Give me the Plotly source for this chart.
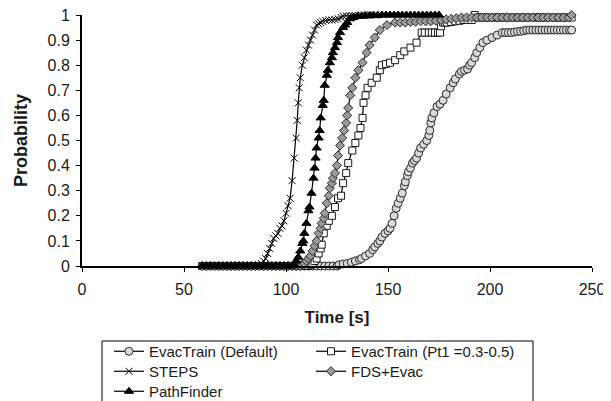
import plotly.graph_objects as go

# ---------------- data ----------------
default_t = [59, 61, 63, 65, 67, 69, 71, 73, 75, 77, 79, 81, 83, 85, 87, 89, 91, 93, 95, 97,
             99, 101, 103, 105, 107, 109, 111, 113, 115, 117, 119, 121, 123, 125,
             126, 128, 130, 132, 134, 136, 137, 139, 141, 142.5, 143.5, 145, 146, 147, 148.5, 150,
             151, 152, 153, 154, 155, 156, 157, 158, 158.5, 159.5, 160, 161, 162, 163, 164, 165,
             166, 167.5, 169, 170, 170.5, 171, 171.5, 172.5, 174, 175.5, 177, 178.5, 180.5, 182,
             183, 185, 186, 187.5, 189, 190, 191, 192.5, 193.5, 195, 196.5, 198.5, 201, 203.5,
             206, 207.5, 209, 210.5, 212, 213.5, 215, 216.5, 218, 219.5, 221, 222.5, 224, 225.5,
             227, 228.5, 230, 231.5, 233, 234.5, 236, 237.5, 239, 240]
default_p = [0, 0, 0, 0, 0, 0, 0, 0, 0, 0, 0, 0, 0, 0, 0, 0, 0, 0, 0, 0,
             0, 0, 0, 0, 0, 0, 0, 0, 0, 0, 0, 0, 0, 0,
             0.005, 0.008, 0.01, 0.015, 0.02, 0.025, 0.03, 0.04, 0.05, 0.065, 0.076, 0.09, 0.10, 0.115, 0.13, 0.14,
             0.15, 0.17, 0.20, 0.23, 0.25, 0.27, 0.29, 0.32, 0.335, 0.36, 0.375, 0.39, 0.41, 0.42, 0.43, 0.45,
             0.47, 0.485, 0.50, 0.52, 0.54, 0.57, 0.59, 0.61, 0.635, 0.645, 0.66, 0.685, 0.71, 0.73,
             0.745, 0.765, 0.775, 0.78, 0.785, 0.80, 0.81, 0.83, 0.85, 0.87, 0.89, 0.90, 0.91, 0.92,
             0.93, 0.93, 0.93, 0.93, 0.932, 0.934, 0.935, 0.937, 0.94, 0.94, 0.94, 0.94, 0.94, 0.94,
             0.94, 0.94, 0.94, 0.94, 0.94, 0.94, 0.94, 0.94, 0.94, 0.94]

pt1_t = [59, 61, 63, 65, 67, 69, 71, 73, 75, 77, 79, 81, 83, 85, 87, 89, 91, 93, 95, 97,
         99, 101, 103, 105, 107, 109, 111,
         112, 113, 114, 115, 116, 117, 117.5, 118.5, 120, 121, 122.5, 124, 125.5, 127, 128, 129.5,
         130.5, 132.5, 134, 135.5, 136.5, 137.5, 138, 139, 140, 142, 144.5, 146, 147, 149, 151,
         153.5, 156, 158, 161, 164, 166.5, 168, 170, 171.5, 173, 174.5, 175.5, 176, 177, 178,
         179, 181, 183, 185, 187, 189, 191, 192.5, 194, 196, 198, 200, 202, 204, 206, 208, 210,
         212, 214, 216, 218, 220, 222, 224, 226, 228, 230, 232, 234, 236, 238, 240]
pt1_p = [0, 0, 0, 0, 0, 0, 0, 0, 0, 0, 0, 0, 0, 0, 0, 0, 0, 0, 0, 0,
         0, 0, 0, 0, 0, 0, 0,
         0.005, 0.01, 0.02, 0.03, 0.05, 0.07, 0.085, 0.13, 0.16, 0.18, 0.20, 0.235, 0.27, 0.28, 0.33, 0.37,
         0.41, 0.46, 0.49, 0.52, 0.55, 0.59, 0.65, 0.68, 0.71, 0.73, 0.75, 0.78, 0.80, 0.805, 0.81,
         0.82, 0.84, 0.855, 0.87, 0.89, 0.93, 0.93, 0.93, 0.93, 0.93, 0.93, 0.93, 0.955, 0.97, 0.97,
         0.97, 0.972, 0.975, 0.977, 0.98, 0.98, 0.98, 1.0, 0.99, 0.99, 0.99, 0.99, 0.99, 0.99, 0.99, 0.99, 0.99,
         0.99, 0.99, 0.99, 0.99, 0.99, 0.99, 0.99, 0.99, 0.99, 0.99, 0.99, 0.99, 0.99, 0.99, 0.99]

steps_t = [59, 61, 63, 65, 67, 69, 71, 73, 75, 77, 79, 81, 83, 85, 87,
           88, 89, 90, 91, 92, 93, 94, 95, 96, 97, 98, 99, 100, 101, 102, 103, 104, 105,
           105.5, 106, 106.5, 107, 108, 109, 110, 111, 112, 113, 114, 115, 116, 117, 118,
           119.5, 121, 122.5, 124, 125.5, 127, 128, 129.5, 131, 132.5, 134, 135.5, 137, 138.5,
           140, 141.5, 143, 144]
steps_p = [0, 0, 0, 0, 0, 0, 0, 0, 0, 0, 0, 0, 0, 0, 0,
           0.01, 0.02, 0.03, 0.05, 0.07, 0.09, 0.11, 0.12, 0.13, 0.15, 0.16, 0.18, 0.21, 0.24, 0.27, 0.34, 0.43, 0.51,
           0.58, 0.65, 0.71, 0.75, 0.80, 0.83, 0.86, 0.88, 0.90, 0.92, 0.94, 0.96, 0.965, 0.97, 0.975,
           0.978, 0.98, 0.98, 0.982, 0.985, 0.99, 0.995, 0.997, 0.997, 0.997, 0.998, 0.998, 1.0, 1.0,
           1.0, 1.0, 1.0, 1.0]

fds_t = [59, 61, 63, 65, 67, 69, 71, 73, 75, 77, 79, 81, 83, 85, 87, 89, 91, 93, 95, 97,
         99, 101, 103, 105, 107,
         108, 109, 110, 111, 112, 113, 114, 115, 116, 117, 117.5, 118.5, 119, 120, 121, 121.5,
         122.5, 123, 124, 125, 125.5, 126.5, 127.5, 128.5, 129.5, 130, 130.5, 131.5, 132.5, 134,
         135.5, 137.5, 139.5, 141, 143.5, 146, 149.5, 153.5, 156, 158.5, 161, 163.5, 166, 168.5,
         171, 173.5, 176, 178.5, 181, 183.5, 186, 188.5, 191, 193.5, 196, 198.5, 201, 203.5, 206,
         208.5, 211, 213.5, 216, 218.5, 221, 223.5, 226, 228.5, 231, 233.5, 236, 238.5, 240]
fds_p = [0, 0, 0, 0, 0, 0, 0, 0, 0, 0, 0, 0, 0, 0, 0, 0, 0, 0, 0, 0,
         0, 0, 0, 0, 0,
         0.005, 0.01, 0.02, 0.03, 0.04, 0.06, 0.08, 0.10, 0.13, 0.15, 0.17, 0.19, 0.21, 0.25, 0.28, 0.31,
         0.33, 0.35, 0.37, 0.40, 0.44, 0.48, 0.51, 0.54, 0.57, 0.60, 0.63, 0.68, 0.71, 0.75,
         0.78, 0.81, 0.85, 0.88, 0.91, 0.94, 0.96, 0.97, 0.97, 0.97, 0.972, 0.973, 0.975, 0.975,
         0.975, 0.977, 0.98, 0.983, 0.985, 0.987, 0.99, 0.99, 0.99, 0.99, 0.99, 0.99, 0.99, 0.99, 0.99,
         0.99, 0.99, 0.99, 0.99, 0.99, 0.99, 0.99, 0.99, 0.99, 0.99, 0.99, 0.99, 0.99, 1.0]

path_t = [59, 61, 63, 65, 67, 69, 71, 73, 75, 77, 79, 81, 83, 85, 87, 89, 91, 93, 95, 97,
          99, 101, 103,
          104, 105, 106, 107, 108, 108.5, 109, 110, 111, 111.5, 112.5, 113.5, 114, 114.5, 115, 116,
          116.5, 117, 118, 118.5, 119, 120, 120.5, 121.5, 122.5, 123, 124, 125, 125.5, 126.5, 128,
          129, 130, 131.5, 133, 135, 137, 139, 141, 143, 145, 147, 149, 151, 153, 155, 157, 159,
          161, 163, 165, 167, 169, 171, 173, 175]
path_p = [0, 0, 0, 0, 0, 0, 0, 0, 0, 0, 0, 0, 0, 0, 0, 0, 0, 0, 0, 0,
          0, 0, 0,
          0.005, 0.02, 0.035, 0.06, 0.09, 0.10, 0.13, 0.17, 0.22, 0.235, 0.29, 0.35, 0.39, 0.43, 0.47, 0.51,
          0.54, 0.59, 0.64, 0.66, 0.72, 0.76, 0.78, 0.81, 0.83, 0.85, 0.87, 0.89, 0.91, 0.93, 0.95,
          0.96, 0.97, 0.985, 0.99, 0.995, 0.995, 0.997, 0.997, 0.998, 0.998, 1.0, 1.0, 1.0, 1.0, 1.0, 1.0, 1.0,
          1.0, 1.0, 1.0, 1.0, 1.0, 1.0, 1.0, 1.0]

x_ticks = [0, 50, 100, 150, 200, 250]
y_ticks = [0, 0.1, 0.2, 0.3, 0.4, 0.5, 0.6, 0.7, 0.8, 0.9, 1]
y_tick_labels = ["0", "0.1", "0.2", "0.3", "0.4", "0.5", "0.6", "0.7", "0.8", "0.9", "1"]

FONT = "Liberation Sans, Arial, sans-serif"

# the page body has an 8 px margin, so the figure starts at (8, 8)
OFF = 8
PLOT_L, PLOT_R, PLOT_T, PLOT_B = 82, 592, 15, 266      # plot area in page pixels
PW, PH = PLOT_R - PLOT_L, PLOT_B - PLOT_T


def px_x(px):
    return (px - PLOT_L) / PW


def px_y(py):
    return (PLOT_B - py) / PH


fig = go.Figure()


def add(name, t, p, symbol, fill, line_col, size, legend):
    fig.add_trace(go.Scatter(
        x=t, y=p, name=name, mode="lines+markers", cliponaxis=False,
        line=dict(color="black", width=1.2),
        marker=dict(symbol=symbol, size=size, color=fill,
                    line=dict(color=line_col, width=1)),
        legend=legend, showlegend=True,
    ))


add("EvacTrain (Default)", default_t, default_p, "circle", "#d9d9d9", "#2a2a2a", 8, "legend")
add("EvacTrain (Pt1 =0.3-0.5)", pt1_t, pt1_p, "square", "white", "#1a1a1a", 7, "legend2")
add("STEPS", steps_t, steps_p, "x-thin", "black", "black", 7, "legend3")
add("FDS+Evac", fds_t, fds_p, "diamond", "#9a9a9a", "#2a2a2a", 7, "legend4")
add("PathFinder", path_t, path_p, "triangle-up", "black", "black", 8, "legend5")

axis_common = dict(showline=True, linecolor="black", linewidth=2, ticks="outside",
                   ticklen=4, tickcolor="black", showgrid=False, zeroline=False,
                   ticklabeloverflow="allow",
                   tickfont=dict(family=FONT, size=16, color="#1a1a1a"))


def leg(col_px, row_center_px):
    return dict(x=px_x(col_px), y=px_y(row_center_px - 17), xanchor="left", yanchor="top",
                font=dict(family=FONT, size=15), bgcolor="rgba(0,0,0,0)", borderwidth=0,
                tracegroupgap=0)


fig.update_layout(
    width=611 - OFF, height=401 - OFF,
    showlegend=True,
    margin=dict(l=PLOT_L - OFF, r=611 - PLOT_R, t=PLOT_T - OFF, b=401 - PLOT_B,
                autoexpand=False),
    paper_bgcolor="white", plot_bgcolor="white",
    font=dict(family=FONT, color="#1a1a1a"),
    xaxis=dict(range=[0, 250], tickvals=x_ticks, ticklabelstandoff=4, **axis_common,
               title=dict(text="<b>Time [s]</b>", font=dict(family=FONT, size=17), standoff=14)),
    yaxis=dict(range=[0, 1], tickvals=y_ticks, ticktext=y_tick_labels, ticklabelstandoff=3,
               **axis_common,
               title=dict(text="<b>Probability</b>", font=dict(family=FONT, size=18), standoff=15)),
    legend=leg(109, 352),
    legend2=leg(311, 352),
    legend3=leg(109, 372),
    legend4=leg(311, 372),
    legend5=leg(109, 392),
    shapes=[dict(type="rect", xref="paper", yref="paper",
                 x0=px_x(102), x1=px_x(533), y0=px_y(341), y1=px_y(410),
                 line=dict(color="black", width=1), fillcolor="rgba(0,0,0,0)")],
)

fig.write_html("out.html")
